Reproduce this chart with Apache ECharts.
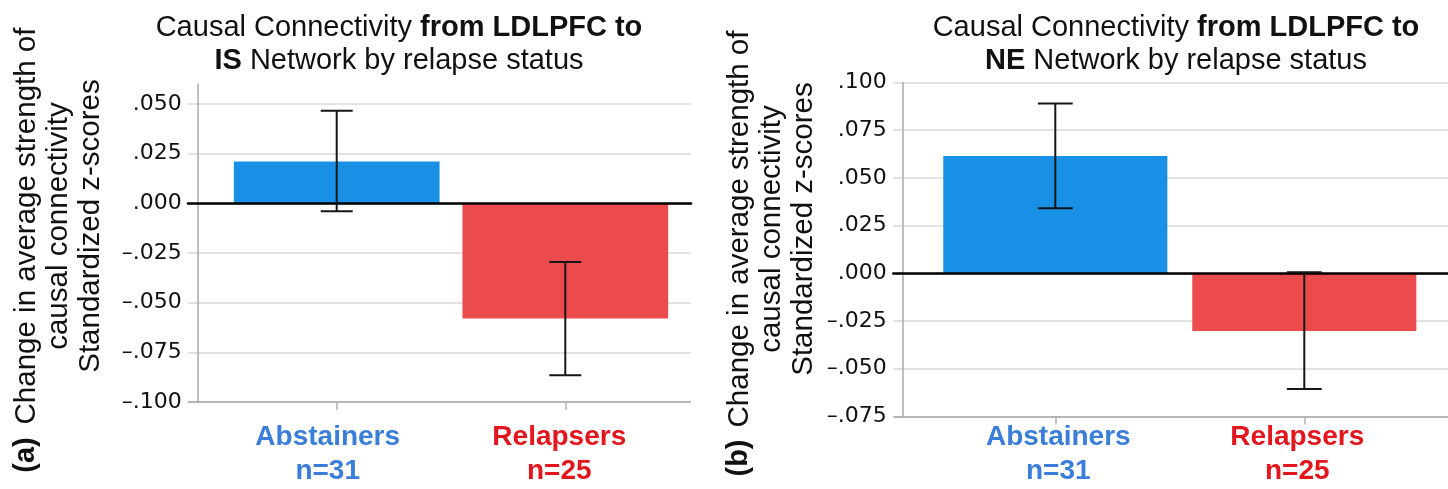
<!DOCTYPE html>
<html>
<head>
<meta charset="utf-8">
<script src="https://cdn.jsdelivr.net/npm/echarts@6/dist/echarts.min.js"></script>
<style>
  html, body { margin: 0; padding: 0; background: #ffffff; }
  #chart { width: 1448px; height: 489px; }
</style>
</head>
<body>
<div id="chart"></div>
<script>
// ---------- data ----------
const categories = ['Abstainers', 'Relapsers'];
const sampleSizes = ['n=31', 'n=25'];

// Panel (a): LDLPFC -> IS network
const meansIS = [0.021, -0.058];
const lowerIS = [-0.004, -0.0865];
const upperIS = [0.0465, -0.0295];
const ticksIS = [-0.1, -0.075, -0.05, -0.025, 0, 0.025, 0.05];
const rangeIS = [-0.1, 0.06];

// Panel (b): LDLPFC -> NE network
const meansNE = [0.0615, -0.0302];
const lowerNE = [0.034, -0.0606];
const upperNE = [0.089, 0.0005];
const ticksNE = [-0.075, -0.05, -0.025, 0, 0.025, 0.05, 0.075, 0.1];
const rangeNE = [-0.075, 0.1];

const titleA = ['Causal Connectivity ', 'from LDLPFC to', 'IS', ' Network by relapse status'];
const titleB = ['Causal Connectivity ', 'from LDLPFC to', 'NE', ' Network by relapse status'];
const yTitleLines = ['Change in average strength of', 'causal connectivity', 'Standardized z-scores'];

// ---------- style ----------
const barColors = ['#1890e6', '#ec4b4e'];
const labelColors = ['#3b7ed9', '#e2161d'];
const SANS = '"Liberation Sans", Arial, sans-serif';
const TICKFONT = '"DejaVu Sans", sans-serif';

function fmtTick(v) {
  const s = Math.abs(v).toFixed(3).replace(/^0/, '');
  return v < -1e-9 ? '\u2013' + s : s;
}

function titleOpt(parts, centerX) {
  return {
    text: '{n|' + parts[0] + '}{b|' + parts[1] + '}\n{b|' + parts[2] + '}{n|' + parts[3] + '}',
    left: centerX,
    top: 6,
    textAlign: 'center',
    textStyle: {
      fontWeight: 'normal',
      rich: {
        n: { fontFamily: SANS, fontSize: 29, fontWeight: 'normal', color: '#111', lineHeight: 33 },
        b: { fontFamily: SANS, fontSize: 29, fontWeight: 'bold', color: '#111', lineHeight: 33 }
      }
    }
  };
}

function catRich(shifts) {
  const r = {};
  categories.forEach((c, i) => {
    const s = shifts[i];
    r['c' + i] = {
      fontFamily: SANS, fontSize: 28, fontWeight: 'bold', color: labelColors[i], lineHeight: 34,
      padding: s < 0 ? [0, -2 * s, 0, 0] : [0, 0, 0, 2 * s]
    };
  });
  return r;
}

function panel(idx, bg, cat, range, ticks, means, lower, upper) {
  const gBg = idx * 2, gCat = idx * 2 + 1;
  const grids = [
    { left: bg.left, top: bg.top, width: bg.width, height: bg.height },
    { left: cat.left, top: bg.top, width: cat.width, height: bg.height }
  ];
  const yAxes = [
    {
      gridIndex: gBg, type: 'value', min: range[0], max: range[1],
      offset: bg.offset,
      axisLine: { show: true, lineStyle: { color: '#a9a9a9', width: 1.5 } },
      axisTick: { show: false, customValues: ticks },
      axisLabel: {
        customValues: ticks, margin: 16, formatter: fmtTick,
        fontFamily: TICKFONT, fontSize: 22, color: '#111'
      },
      splitLine: {
        show: true,
        lineStyle: { color: ['#9e9e9e', '#d8d8d8', '#d8d8d8', '#d8d8d8', '#d8d8d8', '#d8d8d8', '#d8d8d8', '#d8d8d8'], width: 1.5 }
      }
    },
    {
      gridIndex: gCat, type: 'value', min: range[0], max: range[1], show: false
    }
  ];
  const rich = catRich(cat.shifts);
  const xAxes = [
    {
      gridIndex: gBg, type: 'value', min: 0, max: 1, z: 10,
      axisLine: { show: true, onZero: true, lineStyle: { color: '#000', width: 2.6 } },
      axisTick: { show: false }, axisLabel: { show: false }, splitLine: { show: false }
    },
    {
      gridIndex: gCat, type: 'category', data: categories,
      axisLine: { show: false, onZero: false },
      axisTick: { show: true, alignWithLabel: true, length: 8, lineStyle: { color: '#b5b5b5', width: 1.5 } },
      axisLabel: {
        margin: cat.labelMargin,
        formatter: (v, i) => '{c' + i + '|' + v + '}\n{c' + i + '|' + sampleSizes[i] + '}',
        rich: rich
      }
    }
  ];
  const series = [
    {
      type: 'bar', xAxisIndex: gCat, yAxisIndex: gCat, barWidth: '90%', z: 2,
      data: means.map((m, i) => ({ value: m, itemStyle: { color: barColors[i] } })),
      silent: true
    },
    {
      type: 'custom', xAxisIndex: gCat, yAxisIndex: gCat, z: 12, silent: true,
      data: lower.map((lo, i) => [i, lo, upper[i]]),
      renderItem: (params, api) => {
        const lo = api.coord([api.value(0), api.value(1)]);
        const hi = api.coord([api.value(0), api.value(2)]);
        const hw = api.size([1, 0])[0] * 0.07;
        const st = { stroke: '#161616', lineWidth: 2 };
        return {
          type: 'group',
          children: [
            { type: 'line', shape: { x1: lo[0], y1: lo[1], x2: hi[0], y2: hi[1] }, style: st },
            { type: 'line', shape: { x1: lo[0] - hw, y1: lo[1], x2: lo[0] + hw, y2: lo[1] }, style: st },
            { type: 'line', shape: { x1: hi[0] - hw, y1: hi[1], x2: hi[0] + hw, y2: hi[1] }, style: st }
          ]
        };
      }
    }
  ];
  return { grids, yAxes, xAxes, series };
}

const pA = panel(0,
  { left: 188, top: 84, width: 503, height: 318, offset: -9.7 },
  { left: 222.4, width: 457.2, labelMargin: 18, shifts: [-9, -6] },
  rangeIS, ticksIS, meansIS, lowerIS, upperIS);
const pB = panel(1,
  { left: 893.3, top: 82.4, width: 554.7, height: 334, offset: -9.4 },
  { left: 930.8, width: 498, labelMargin: 4, shifts: [3, -7] },
  rangeNE, ticksNE, meansNE, lowerNE, upperNE);

function yTitle(cx, cy, tag, tagY) {
  return [
    {
      type: 'text', x: cx, y: cy, rotation: Math.PI / 2,
      style: {
        text: yTitleLines.join('\n'), font: '29.5px ' + SANS, fill: '#111',
        align: 'center', verticalAlign: 'middle', lineHeight: 32
      }
    },
    {
      type: 'text', x: cx - 33, y: tagY, rotation: Math.PI / 2,
      style: {
        text: tag, font: 'bold 29px ' + SANS, fill: '#111',
        align: 'center', verticalAlign: 'middle'
      }
    }
  ];
}

const option = {
  backgroundColor: '#ffffff',
  animation: false,
  title: [titleOpt(titleA, 394), titleOpt(titleB, 1171)],
  grid: pA.grids.concat(pB.grids),
  xAxis: pA.xAxes.concat(pB.xAxes),
  yAxis: pA.yAxes.concat(pB.yAxes),
  series: pA.series.concat(pB.series),
  graphic: yTitle(59, 226, '(a)', 455).concat(yTitle(772, 229, '(b)', 458))
};

const chart = echarts.init(document.getElementById('chart'), null, { renderer: 'canvas' });
chart.setOption(option);
</script>
</body>
</html>
